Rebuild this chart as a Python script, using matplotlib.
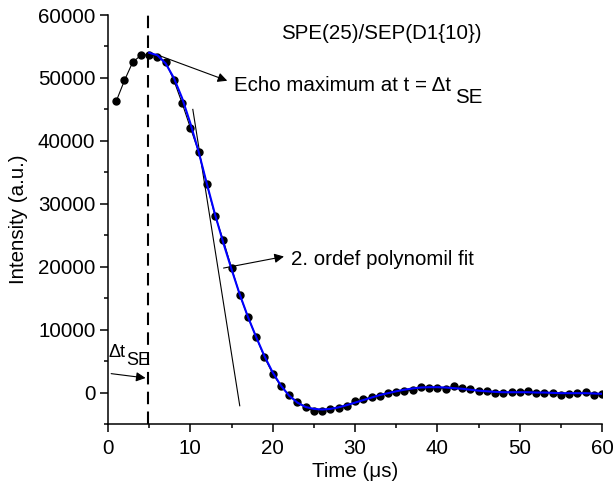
import matplotlib
matplotlib.use("Agg")
import matplotlib.pyplot as plt
from matplotlib.ticker import MultipleLocator

plt.rcParams['font.family'] = ['Liberation Sans', 'DejaVu Sans']

# measured echo (time in us, intensity in a.u.)
t = list(range(1, 61))
intensity = [46300, 49600, 52500, 53600, 53700, 53400, 52600, 49600, 46000, 42100,
             38300, 33100, 28100, 24200, 19800, 15500, 12000, 8800, 5600, 3000,
             1000, -400, -1500, -2300, -3000, -2900, -2600, -2500, -2200, -1400,
             -1100, -700, -500, 0, 100, 200, 400, 850, 800, 750,
             640, 1000, 750, 500, 200, 200, -50, 0, 50, 100,
             300, -50, 0, 0, -400, -200, -150, 100, -400, -300]

# fit curve
t_fit = list(range(5, 61))
fit = [54000, 53600, 52300, 50000, 46800, 42800, 38300, 33200, 28300, 23800,
       19600, 15600, 12000, 8800, 5800, 3200, 1100, -500, -1600, -2300,
       -2600, -2700, -2600, -2350, -2000, -1600, -1200, -800, -400, -100,
       200, 450, 650, 800, 850, 850, 800, 700, 600, 450,
       300, 200, 100, 50, 50, 50, 50, 0, 0, -50,
       -100, -100, -100, -100, -150, -200]

# tangent line at the steep flank
tan_t = [10.3, 16.0]
tan_y = [45000, -2100]

t_echo = 4.9
fs = 14.8

fig = plt.figure(figsize=(6.15, 4.92), dpi=100)
ax = fig.add_axes([0.1756, 0.1382, 0.8034, 0.8313])

ax.plot(t, intensity, color='black', lw=0.8, marker='o', ms=5, zorder=3)
ax.plot(t_fit, fit, color='#0000ff', lw=1.5, zorder=4)
ax.plot(tan_t, tan_y, color='black', lw=0.8, zorder=2)
ax.axvline(t_echo, color='black', lw=1.5, dashes=(6, 3.5), zorder=1)

ax.set_xlim(0, 60)
ax.set_ylim(-5000, 60000)
ax.xaxis.set_major_locator(MultipleLocator(10))
ax.xaxis.set_minor_locator(MultipleLocator(5))
ax.yaxis.set_major_locator(MultipleLocator(10000))
ax.yaxis.set_minor_locator(MultipleLocator(5000))
ax.tick_params(which='major', direction='out', length=6, width=1.1, labelsize=fs, pad=3)
ax.tick_params(axis='x', which='major', pad=4.5)
ax.tick_params(which='minor', direction='out', length=3, width=1.1)
for s in ['top', 'right']:
    ax.spines[s].set_visible(False)
for s in ['left', 'bottom']:
    ax.spines[s].set_linewidth(1.1)

ax.set_xlabel('Time (\u03bcs)', fontsize=fs, labelpad=3)
ax.set_ylabel('Intensity (a.u.)', fontsize=fs)
ax.yaxis.set_label_coords(-0.162, 0.5)

arr = dict(arrowstyle='-|>', color='black', lw=0.8, mutation_scale=14)

ax.text(33.2, 57000, 'SPE(25)/SEP(D1{10})', fontsize=fs, ha='center', va='center')

ax.annotate('', xy=(14.8, 49400), xytext=(5.5, 53900), arrowprops=arr)
ax.text(15.3, 47900, 'Echo maximum at t = \u0394t', fontsize=fs, va='baseline')
ax.text(42.2, 46000, 'SE', fontsize=fs, va='baseline')

ax.annotate('', xy=(21.7, 21700), xytext=(13.7, 19700), arrowprops=arr)
ax.text(22.2, 20300, '2. ordef polynomil fit', fontsize=fs, va='baseline')

ax.annotate('', xy=(4.9, 2260), xytext=(0.05, 3060), arrowprops=arr)
ax.text(0.1, 5600, '\u0394t', fontsize=13, va='baseline')
ax.text(2.2, 4400, 'SE', fontsize=13, va='baseline')

fig.savefig('out.png', dpi=100)
